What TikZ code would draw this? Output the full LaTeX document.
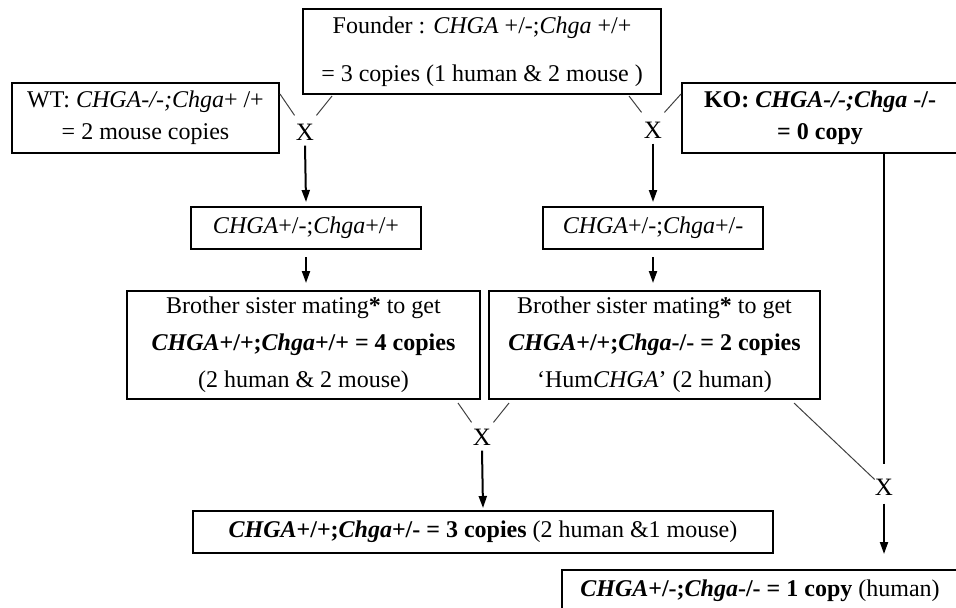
\documentclass[tikz,border=0pt]{standalone}
\usepackage{fontspec}
\setmainfont{Liberation Serif}
\usetikzlibrary{arrows.meta,calc}
\begin{document}
\begin{tikzpicture}[x=0.5pt,y=-0.5pt,
  box/.style={draw,line width=1pt,inner sep=0pt,align=center,font=\fontsize{12}{16}\selectfont},
  cross/.style={inner sep=0pt,font=\fontsize{12.5}{14}\selectfont},
  arr/.style={line width=1pt,-{Triangle[length=6pt,width=4pt]}},
  thinline/.style={line width=0.5pt,black!75}]
\useasboundingbox (0,0) rectangle (956,607);
% boxes
\node[box,minimum width=179pt,minimum height=42.5pt] (founder) at (482,51.5)
  {Founder : \textit{CHGA} +/-;\textit{Chga} +/+\\[8pt] = 3 copies (1 human \& 2 mouse )};
\node[box,minimum width=133.5pt,minimum height=35pt] (wt) at (145.5,118)
  {WT: \textit{CHGA-/-;Chga}+ /+\\ = 2 mouse copies};
\node[box,minimum width=138pt,minimum height=35pt] (ko) at (820,118)
  {\textbf{KO: \textit{CHGA-/-;Chga} -/-}\\ \textbf{= 0 copy}};
\node[box,minimum width=115pt,minimum height=21pt] (mid1) at (306,228)
  {\textit{CHGA}+/-;\textit{Chga}+/+};
\node[box,minimum width=110pt,minimum height=21pt] (mid2) at (653,228)
  {\textit{CHGA}+/-;\textit{Chga}+/-};
\node[box,minimum width=176.5pt,minimum height=54pt] (bl) at (303.5,345)
  {Brother sister mating\textbf{*} to get\\[2.5pt] \textbf{\textit{CHGA}+/+;\textit{Chga}+/+ = 4 copies}\\[2.5pt] (2 human \& 2 mouse)};
\node[box,minimum width=165.5pt,minimum height=54pt] (br) at (654.5,345)
  {Brother sister mating\textbf{*} to get\\[2.5pt] \textbf{\textit{CHGA}+/+;\textit{Chga}-/- = 2 copies}\\[2.5pt] ‘Hum\textit{CHGA}’ (2 human)};
\node[box,minimum width=290pt,minimum height=21pt] (bot) at (483,532)
  {\textbf{\textit{CHGA}+/+;\textit{Chga}+/- = 3 copies} (2 human \&1 mouse)};
\node[box,minimum width=198pt,minimum height=21pt] (fin) at (760,591)
  {\textbf{\textit{CHGA}+/-;\textit{Chga}-/- = 1 copy} (human)};
% crosses
\node[cross] (x1) at (305,132) {X};
\node[cross] (x2) at (653,130) {X};
\node[cross] (x3) at (482,437) {X};
\node[cross] (x4) at (884,487) {X};
% connectors
\draw[thinline] ($(wt.north east)+(0,12)$) -- ($(x1.north west)+(-1,-8)$);
\draw[thinline] ($(founder.south west)+(30,1)$) -- ($(x1.north east)+(2,-8)$);
\draw[thinline] ($(founder.south east)+(-33,1)$) -- ($(x2.north west)+(-2,-9)$);
\draw[thinline] ($(ko.north west)+(0,12)$) -- ($(x2.north east)+(2,-9)$);
\draw[arr] ($(x1.south)+(0,5)$) -- ($(mid1.north)+(0,-4)$);
\draw[arr] ($(mid1.south)+(0,7)$) -- ($(mid1.south |- bl.north)+(0,-7)$);
\draw[arr] ($(x2.south)+(0,5)$) -- ($(mid2.north)+(0,-4)$);
\draw[arr] ($(mid2.south)+(0,7)$) -- ($(mid2.south |- br.north)+(0,-7)$);
\draw[thinline] ($(bl.south east)+(-23,3)$) -- ($(x3.north west)+(-1,-6)$);
\draw[thinline] ($(br.south west)+(21,3)$) -- ($(x3.north east)+(2,-6)$);
\draw[arr] ($(x3.south)+(0,5)$) -- ($(bot.north)+(0,-2)$);
\draw[thinline] ($(br.south east)+(-27,3)$) -- ($(x4.north west)+(0,1)$);
\draw[line width=1pt] (x4 |- ko.south) -- ($(x4.north)+(0,-14)$);
\draw[arr] ($(x4.south)+(0,8)$) -- ($(x4 |- fin.north)+(0,-15)$);
\end{tikzpicture}
\end{document}
